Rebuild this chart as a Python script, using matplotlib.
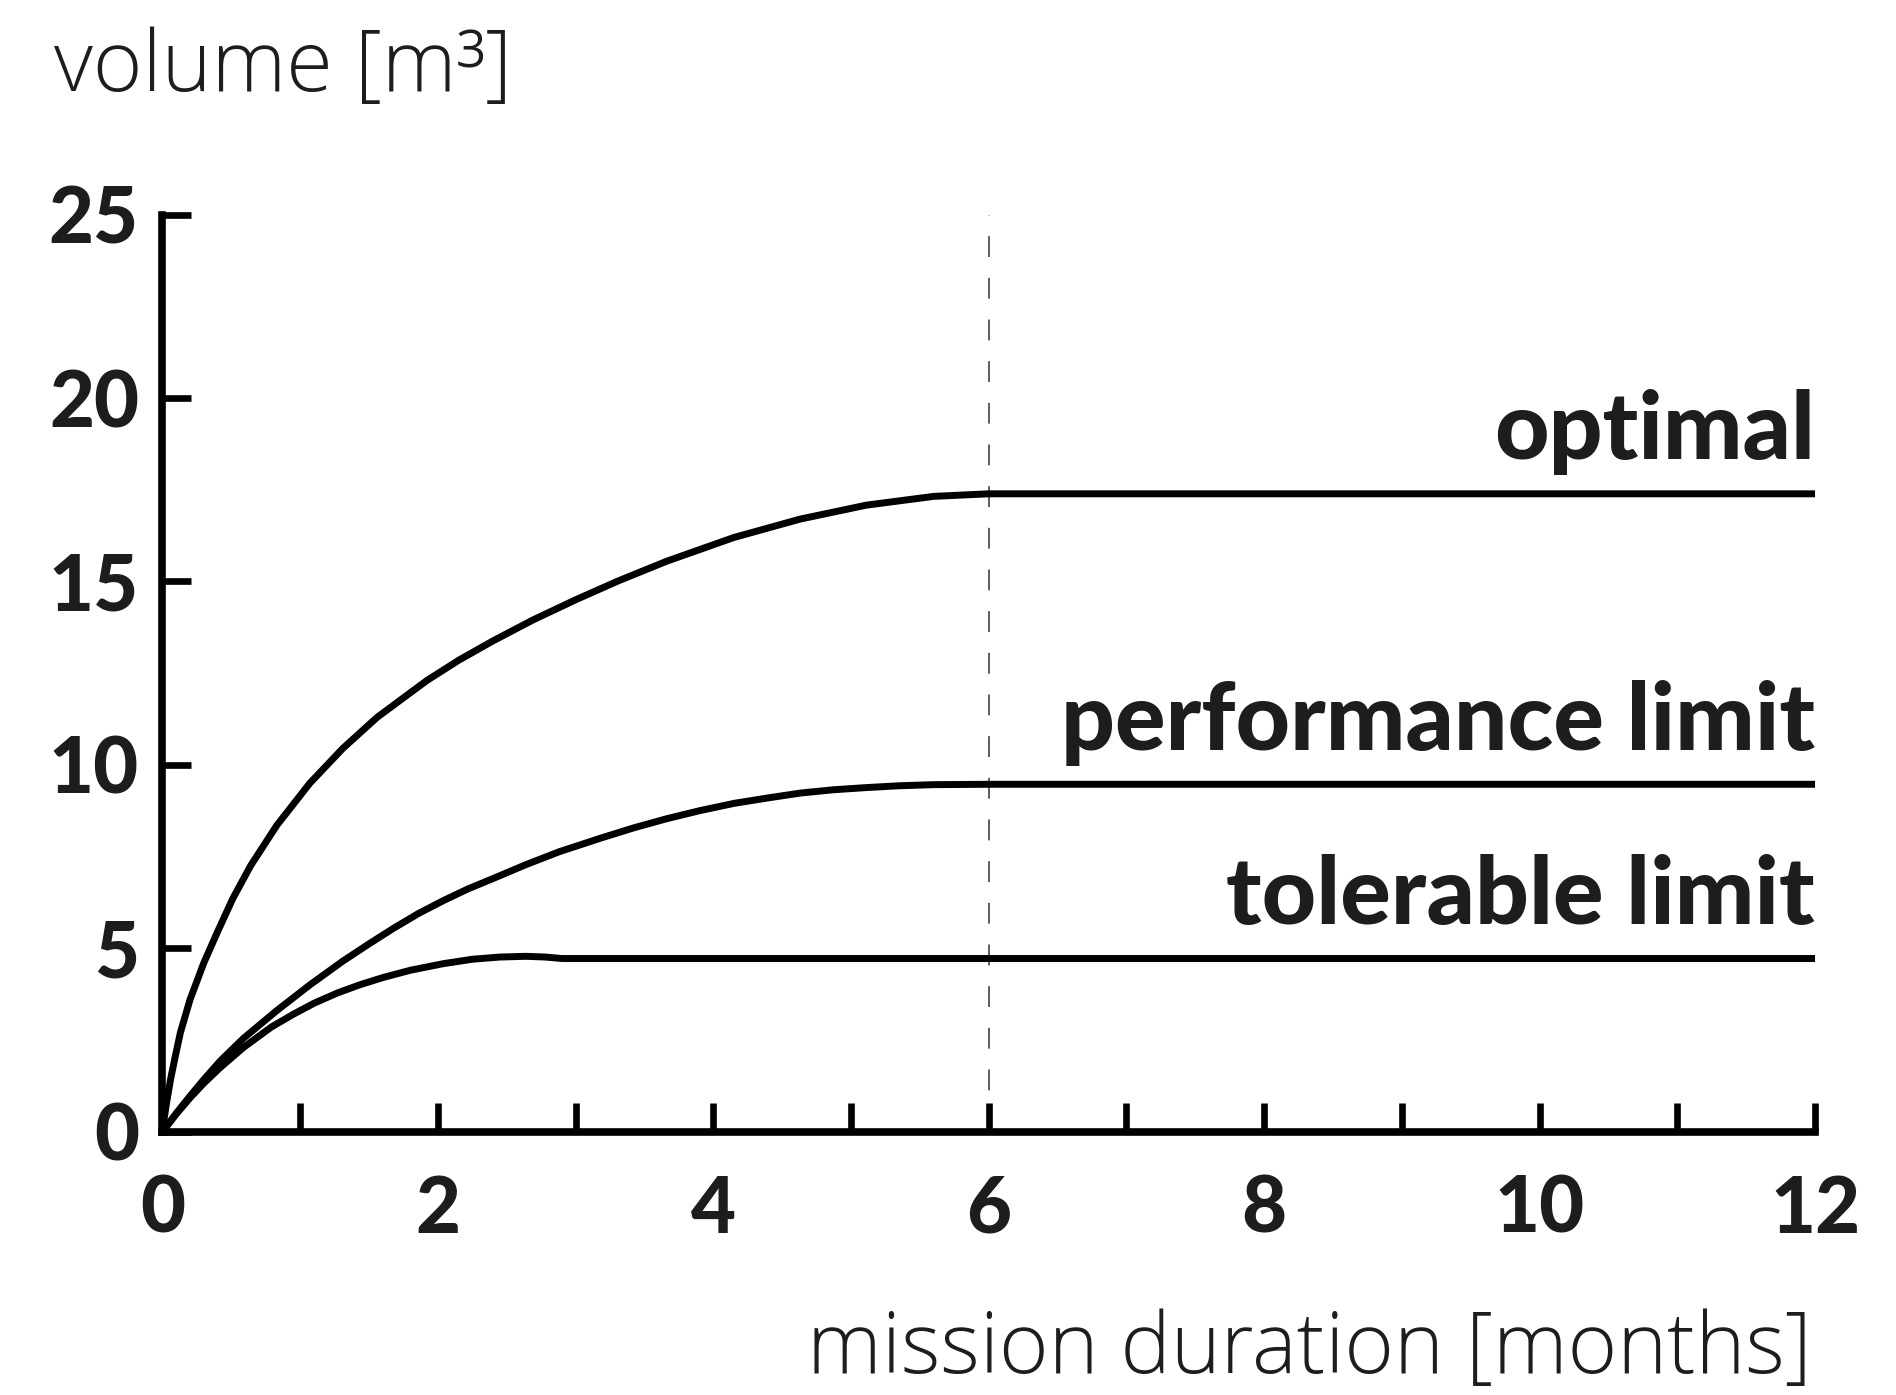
import matplotlib
matplotlib.use("Agg")
import matplotlib.pyplot as plt

# values (months, m^3)
optimal_months = [0, 0.01, 0.03, 0.06, 0.09, 0.13, 0.20, 0.30, 0.40, 0.51, 0.64, 0.83,
                  1.07, 1.31, 1.56, 1.92, 2.15, 2.40, 2.69, 3.00, 3.30, 3.66, 4.15,
                  4.63, 5.11, 5.60, 6.0, 12]
optimal_vol = [0, 0.3, 0.8, 1.45, 2.0, 2.7, 3.6, 4.6, 5.45, 6.35, 7.25, 8.35,
               9.5, 10.45, 11.3, 12.3, 12.85, 13.38, 13.95, 14.5, 15.0, 15.55, 16.2,
               16.7, 17.08, 17.32, 17.39, 17.39]

perf_months = [0, 0.10, 0.20, 0.30, 0.42, 0.59, 0.83, 1.07, 1.31, 1.50, 1.68, 1.86,
               2.04, 2.22, 2.40, 2.64, 2.88, 3.18, 3.42, 3.66, 3.90, 4.15, 4.40,
               4.63, 4.87, 5.11, 5.35, 5.60, 6.0, 12]
perf_vol = [0, 0.5, 0.97, 1.42, 1.93, 2.55, 3.3, 4.0, 4.65, 5.12, 5.55, 5.95,
            6.3, 6.62, 6.9, 7.28, 7.63, 8.0, 8.28, 8.53, 8.75, 8.95, 9.1,
            9.23, 9.32, 9.38, 9.43, 9.46, 9.47, 9.47]

toler_months = [0, 0.10, 0.20, 0.30, 0.42, 0.59, 0.79, 0.95, 1.10, 1.27, 1.43, 1.60,
                1.80, 2.04, 2.25, 2.45, 2.64, 2.78, 2.90, 12]
toler_vol = [0, 0.48, 0.92, 1.32, 1.75, 2.3, 2.85, 3.2, 3.5, 3.78, 4.0, 4.2,
             4.4, 4.58, 4.7, 4.76, 4.78, 4.76, 4.72, 4.72]

series_labels = ["optimal", "performance limit", "tolerable limit"]
x_ticks = list(range(0, 13))
x_ticklabels = [str(m) if m % 2 == 0 else "" for m in x_ticks]
y_ticks = [0, 5, 10, 15, 20, 25]
mission_mark = 6

INK = "#1d1d1b"
BOLD = ["Lato", "DejaVu Sans"]
LIGHT = ["Open Sans", "DejaVu Sans"]

plt.rcParams["lines.scale_dashes"] = False

fig = plt.figure(figsize=(18.96, 13.95), dpi=100)
ax = fig.add_axes([0.0857, 0.1888, 0.8716, 0.6573])

lw = 5
for xs, ys in [(optimal_months, optimal_vol), (perf_months, perf_vol), (toler_months, toler_vol)]:
    ax.plot(xs, ys, color="black", lw=lw, clip_on=False,
            solid_capstyle="butt", solid_joinstyle="round")

ax.axvline(mission_mark, ymin=0, ymax=1, color="#2b3040", lw=1.1, dashes=(15, 15), zorder=0)

# labels above the plateaus, right aligned at the end of the axis
for name, ys in zip(series_labels, [optimal_vol, perf_vol, toler_vol]):
    ax.annotate(name, xy=(12, ys[-1]), xytext=(0, 25), textcoords="offset points",
                ha="right", va="baseline", fontsize=68, fontweight="black",
                family=BOLD, color=INK)

ax.set_xlim(0, 12)
ax.set_ylim(0, 25)
for s in ["top", "right"]:
    ax.spines[s].set_visible(False)
for s in ["left", "bottom"]:
    ax.spines[s].set_linewidth(5.5)
    ax.spines[s].set_color("black")

ax.set_xticks(x_ticks)
ax.set_xticklabels(x_ticklabels)
ax.set_yticks(y_ticks)
ax.set_yticklabels([str(v) for v in y_ticks])
ax.tick_params(direction="in", length=21, width=4.8, color="black", labelcolor=INK)
ax.tick_params(axis="x", pad=31)
ax.tick_params(axis="y", pad=17)
for lab in ax.get_xticklabels() + ax.get_yticklabels():
    lab.set_fontsize(56)
    lab.set_fontweight("black")
    lab.set_family(BOLD)

fig.text(0.0285, 1 - 91 / 1395, "volume [m\u00b3]", ha="left", va="baseline",
         fontsize=61, fontweight="light", family=LIGHT, color=INK)
fig.text(0.9557, 1 - 1373 / 1395, "mission duration [months]", ha="right", va="baseline",
         fontsize=61, fontweight="light", family=LIGHT, color=INK)

fig.savefig("out.png", dpi=100)
